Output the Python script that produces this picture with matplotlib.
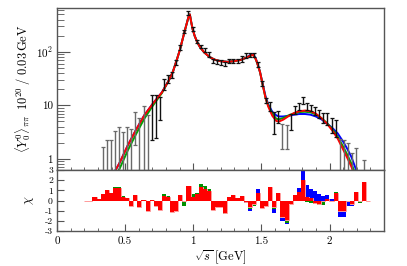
import numpy as np
import matplotlib
matplotlib.use("Agg")
import matplotlib.pyplot as plt
from matplotlib.ticker import MultipleLocator, LogLocator, NullFormatter

plt.rcParams['font.family'] = ['cmr10', 'DejaVu Serif']
plt.rcParams['mathtext.fontset'] = 'cm'
plt.rcParams['axes.unicode_minus'] = False

# ---------------- data: measured points (bin centres, 0.03 GeV bins) ----------------
mass = np.round(0.275 + 0.03 * np.arange(67), 3)
yield_val = [0.25, 0.30, 0.60, 0.80, 1.00, 1.40, 1.80, 1.20, 1.60, 1.30,
             4.70, 2.50, 5.00, 3.00, 9.00, 9.10, 10.0, 25.3, 31.5, 37.4,
             64.0, 122, 241, 530, 268, 156, 126, 109, 91.0, 67.0,
             65.5, 63.5, 60.5, 68.0, 68.0, 68.0, 74.0, 85.0, 86.5, 87.5,
             59.5, 25.8, 12.5, 9.75, 5.15, 6.15, 2.95, 2.90, 5.20, 8.35,
             9.60, 12.25, 9.60, 8.95, 8.05, 7.00, 5.85, 5.70, 4.40, 4.00,
             0.40, 0.30, 0.90, 0.40, 1.00, 0.20, 0.55]
yield_err = [0.20, 0.25, 1.05, 1.46, 1.26, 1.94, 2.20, 2.04, 2.30, 2.30,
             2.90, 3.26, 4.80, 3.60, 6.70, 6.60, 4.60, 5.90, 5.50, 5.40,
             7.00, 13.0, 17.0, 40.0, 23.0, 11.0, 9.00, 8.00, 10.0, 6.00,
             5.50, 5.50, 5.50, 6.00, 6.00, 6.00, 8.00, 9.00, 7.50, 8.50,
             6.50, 3.20, 1.50, 2.05, 2.25, 1.55, 1.45, 1.40, 1.70, 1.45,
             1.40, 1.85, 1.40, 1.25, 1.45, 1.20, 1.25, 1.40, 1.40, 1.40,
             2.00, 1.96, 1.10, 0.88, 0.58, 0.30, 0.41]

# ---------------- data: fit curves ----------------
curve_x = [0.40, 0.43, 0.46, 0.52, 0.58, 0.64, 0.70, 0.77, 0.82, 0.85,
           0.88, 0.90, 0.92, 0.94, 0.955, 0.965, 0.975, 0.985, 0.995, 1.01,
           1.03, 1.05, 1.08, 1.12, 1.16, 1.20, 1.25, 1.30, 1.35, 1.39,
           1.42, 1.44, 1.46, 1.47, 1.49, 1.51, 1.53, 1.55, 1.58, 1.61,
           1.63, 1.66, 1.70, 1.74, 1.78, 1.82, 1.86, 1.90, 1.94, 1.98,
           2.02, 2.06, 2.10, 2.13, 2.16, 2.19, 2.22]
curve_red = [0.45, 0.62, 0.85, 1.8, 3.5, 6.5, 10.5, 17.5, 29, 42,
             72, 105, 165, 260, 360, 450, 500, 360, 270, 200,
             150, 122, 98, 80, 71, 67, 65, 67, 71, 78,
             85, 88, 72, 61, 42, 24, 14, 9.5, 6.4, 5.1,
             5.0, 5.4, 6.3, 7.2, 7.8, 8.0, 7.8, 7.0, 5.8, 4.6,
             3.4, 2.4, 1.5, 1.05, 0.72, 0.45, 0.30]
curve_green = [0.35, 0.50, 0.66, 1.45, 2.9, 5.6, 9.6, 17.0, 29, 42,
               72, 105, 165, 260, 360, 450, 500, 360, 270, 200,
               150, 122, 98, 80, 71, 67, 65, 67, 71, 78,
               85, 88, 72, 61, 42, 24, 14, 10.0, 7.0, 5.6,
               5.5, 5.8, 6.5, 7.1, 7.5, 7.6, 7.4, 6.8, 5.8, 4.7,
               3.6, 2.6, 1.7, 1.2, 0.82, 0.52, 0.33]
curve_blue = [0.45, 0.62, 0.85, 1.8, 3.5, 6.5, 10.5, 17.5, 29, 42,
              72, 105, 165, 260, 360, 450, 500, 360, 270, 200,
              150, 122, 98, 80, 71, 67, 65, 67, 71, 78,
              88, 91, 74, 62, 42, 25, 15, 10.5, 7.6, 6.5,
              6.2, 6.2, 6.4, 6.7, 6.9, 6.9, 6.7, 6.2, 5.5, 4.6,
              3.8, 3.0, 2.1, 1.55, 1.1, 0.68, 0.42]

# ---------------- data: pulls (bins of 0.03 GeV from 0.20 to 2.30) ----------------
chi_start = 0.20
chi_red = [0, 0,
           0.3, 0.15, 0.6, 1.0, 0.75, 1.2, 1.2, 0.35, 0.2, -0.55,
           0.5, -0.65, 0.05, -1.0, 0.05, -0.5, -0.9, 0.45, 0.3, -1.15,
           -1.0, 0.5, -0.05, 1.4, 0.3, 0.6, 1.3, 1.15, 0.9, -0.9,
           -0.65, -0.65, -1.25, 0.35, 0.5, 0.25, 0.4, -0.1, -0.65, -0.3,
           0.7, -0.75, -0.55, 1.35, -0.6, 0.7, -1.6, -1.95, -0.3, 0.5,
           0.8, 2.0, 0.3, 0.2, -0.2, -0.3, -0.05, 0.1, 0.0, 0.7,
           -1.0, -1.0, 0.0, -0.3, 0.85, 0.0, 1.8,
           0]
chi_green = [0, 0,
             0.3, 0.15, 0.6, 1.0, 0.75, 1.3, 1.35, 0.45, 0.2, -0.55,
             0.55, -0.65, 0.05, -1.0, 0.05, -0.5, -0.9, 0.65, 0.45, -1.15,
             -1.0, 0.5, -0.55, 1.4, 0.6, 0.75, 1.6, 1.45, 1.1, -0.9,
             -0.65, -0.65, -1.3, 0.35, 0.5, 0.25, 0.4, -0.1, -0.8, -0.55,
             0.7, -0.75, -0.55, 1.35, -0.8, 0.7, -1.75, -2.2, -0.3, 0.5,
             0.8, 2.0, -0.1, -0.2, -0.35, -0.45, -0.4, 0.1, 0.0, 0.85,
             -1.0, -1.0, 0.0, -0.4, 0.85, -0.25, 1.8,
             0]
chi_blue = [0, 0,
            0.3, 0.15, 0.6, 1.0, 0.75, 1.2, 1.2, 0.35, 0.2, -0.55,
            0.5, -0.65, 0.05, -1.0, 0.05, -0.5, -0.9, 0.45, 0.3, -1.15,
            -1.0, 0.5, -0.05, 1.45, 0.3, 0.6, 1.3, 1.15, 0.9, -0.9,
            -0.65, -0.65, -1.25, 0.35, 0.5, 0.25, 0.4, -0.25, -1.05, -0.3,
            1.15, -0.75, -0.55, 1.35, -1.2, 0.7, -2.05, -2.3, -0.3, 0.5,
            1.2, 2.9, 1.5, 1.15, 0.95, 0.65, 0.4, 0.5, 0.1, 0.7,
            -1.65, -1.6, -0.55, -0.5, 0.85, 0.0, 1.8,
            0]

# ---------------- figure ----------------
W, H = 407, 266
fig = plt.figure(figsize=(W / 100, H / 100), dpi=100)
L, R = 57 / W, 384 / W
ax1 = fig.add_axes([L, 1 - 170 / H, R - L, (170 - 8) / H])
ax2 = fig.add_axes([L, 1 - 231 / H, R - L, (231 - 170) / H])

frame_col = '#555555'
for ax in (ax1, ax2):
    for s in ax.spines.values():
        s.set_color(frame_col)
        s.set_linewidth(1.0)
    ax.set_xlim(0, 2.4)

# top panel
ax1.set_yscale('log')
ax1.set_ylim(0.62, 660)
ax1.plot(curve_x, curve_blue, color='#0000ff', lw=1.4, zorder=3)
ax1.plot(curve_x, curve_green, color='#00a000', lw=1.4, zorder=4)
ax1.plot(curve_x, curve_red, color='#ff0000', lw=1.4, zorder=5)

v = np.array(yield_val)
e = np.array(yield_err)
lo = np.clip(v - e, 1e-3, None)
hi = v + e
gray = (v - e) < 2.0
for m, col in ((gray, '#6a6a6a'), (~gray, '#111111')):
    ax1.errorbar(mass[m], v[m], yerr=[v[m] - lo[m], hi[m] - v[m]], fmt='none',
                 ecolor=col, elinewidth=1.0, capsize=1.3, capthick=0.9, zorder=6)

ax1.set_yticks([1, 10, 100])
ax1.set_yticklabels(['1', '10', r'$10^2$'])
ax1.yaxis.set_minor_locator(LogLocator(base=10, subs=np.arange(2, 10)))
ax1.yaxis.set_minor_formatter(NullFormatter())
ax1.xaxis.set_major_locator(MultipleLocator(0.5))
ax1.xaxis.set_minor_locator(MultipleLocator(0.1))
ax1.tick_params(axis='x', which='both', direction='in', labelbottom=False, colors=frame_col)
ax1.tick_params(axis='x', which='major', length=5)
ax1.tick_params(axis='x', which='minor', length=2.5)
ax1.tick_params(axis='y', which='major', direction='in', length=9, labelsize=8,
                colors=frame_col, labelcolor='black', pad=3)
ax1.tick_params(axis='y', which='minor', direction='in', length=5, colors=frame_col)
ax1.set_ylabel(r'$\langle Y^0_0\rangle_{\pi\pi}\;\;10^{20}\;/\;0.03\,\mathrm{GeV}$',
               fontsize=9, labelpad=2)

# bottom panel (pulls)
edges = chi_start + 0.03 * np.arange(len(chi_red) + 1)
ax2.stairs(chi_blue, edges, fill=True, color='#0000ff', zorder=2)
ax2.stairs(chi_green, edges, fill=True, color='#009000', zorder=3)
ax2.stairs(chi_red, edges, fill=True, color='#ff0000', zorder=4)
ax2.stairs(chi_red, edges, color='#ff9999', lw=0.7, zorder=3.5)
ax2.set_ylim(-3, 3)
ax2.set_yticks([-3, -2, -1, 0, 1, 2, 3])
ax2.set_yticklabels(['-3', '-2', '-1', '0', '1', '2', '3'])
ax2.set_xticks([0, 0.5, 1, 1.5, 2])
ax2.set_xticklabels(['0', '0.5', '1', '1.5', '2'])
ax2.xaxis.set_minor_locator(MultipleLocator(0.1))
ax2.tick_params(axis='x', which='major', direction='in', length=5, labelsize=8,
                colors=frame_col, labelcolor='black', pad=4)
ax2.tick_params(axis='x', which='minor', direction='in', length=2.5, colors=frame_col)
ax2.tick_params(axis='y', which='major', direction='in', length=5, labelsize=7,
                colors=frame_col, labelcolor='black', pad=3)
ax2.set_ylabel(r'$\chi$', fontsize=9, labelpad=6)
ax2.set_xlabel(r'$\sqrt{s}\;[\mathrm{GeV}]$', fontsize=9, labelpad=2)

fig.savefig('out.png', dpi=100)
